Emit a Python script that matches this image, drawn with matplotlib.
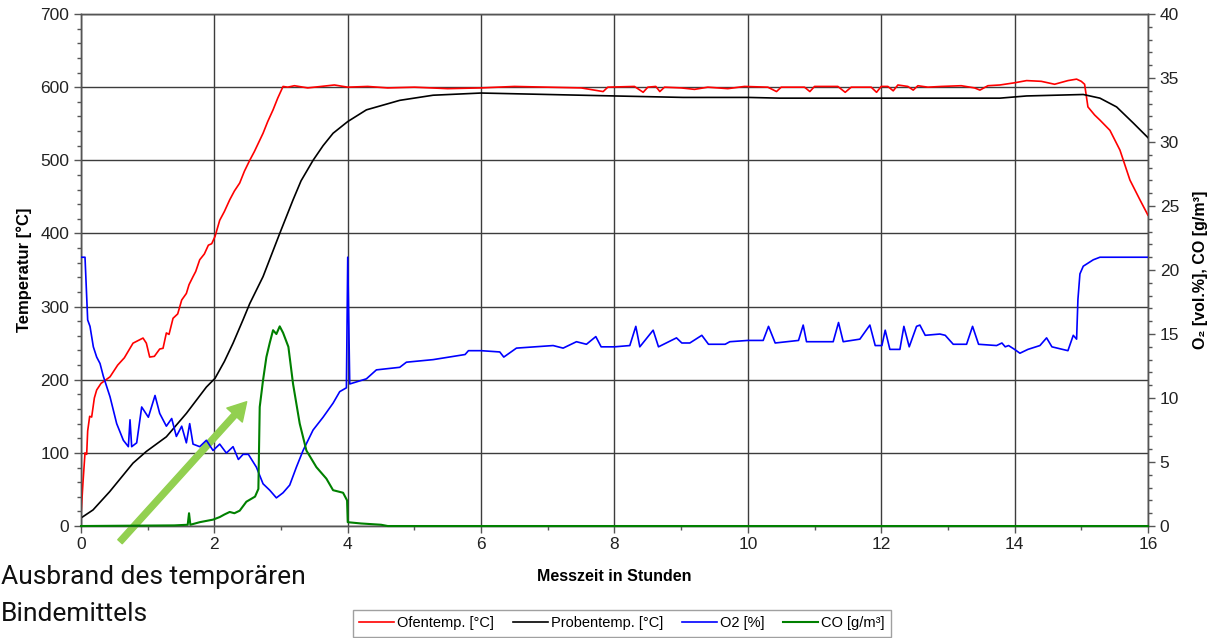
import matplotlib
matplotlib.use("Agg")
import matplotlib.pyplot as plt
from matplotlib.ticker import MultipleLocator

plt.rcParams['font.family'] = ['Liberation Sans', 'DejaVu Sans']

# Ofentemp. [°C]
ofen_t = [0.0, 0.03, 0.06, 0.085, 0.1, 0.13, 0.16, 0.2, 0.235, 0.3, 0.435, 0.55,
          0.65, 0.78, 0.93, 0.98, 1.03, 1.1, 1.18, 1.23, 1.28, 1.32, 1.38, 1.45,
          1.51, 1.58, 1.62, 1.68, 1.72, 1.78, 1.85, 1.91, 1.96, 2.01, 2.08, 2.15,
          2.23, 2.3, 2.38, 2.45, 2.53, 2.6, 2.73, 2.8, 2.88, 2.95, 3.03, 3.1, 3.2,
          3.4, 3.6, 3.8, 4.0, 4.3, 4.6, 5.0, 5.5, 6.0, 6.5, 7.0, 7.5, 7.83, 7.9,
          8.3, 8.43, 8.5, 8.62, 8.68, 8.75, 9.0, 9.2, 9.4, 9.7, 9.95, 10.3, 10.43,
          10.5, 10.85, 10.93, 11.0, 11.35, 11.46, 11.55, 11.85, 11.93, 12.0, 12.1,
          12.18, 12.25, 12.4, 12.48, 12.55, 12.7, 12.9, 13.2, 13.4, 13.48, 13.6,
          13.78, 14.0, 14.18, 14.4, 14.6, 14.8, 14.93, 15.0, 15.05, 15.1, 15.2,
          15.28, 15.43, 15.58, 15.73, 15.88, 16.0]
ofen_T = [15, 60, 100, 98, 130, 150, 149, 175, 186, 195, 204, 220,
          230, 250, 257, 250, 231, 232, 242, 243, 264, 262, 284, 290,
          309, 318, 330, 341, 348, 364, 372, 384, 386, 396, 418, 430,
          446, 458, 469, 485, 500, 512, 537, 553, 569, 585, 601, 600, 602,
          599, 601, 603, 600, 601, 599, 600, 598, 599, 601, 600, 599, 594, 600,
          601, 593, 600, 601, 594, 600, 599, 597, 600, 598, 601, 600, 594,
          600, 600, 594, 601, 601, 593, 600, 600, 593, 601, 601,
          595, 603, 601, 596, 602, 600, 601, 602, 599, 596, 602,
          603, 606, 609, 608, 604, 609, 611, 608, 604, 573, 562,
          555, 541, 514, 473, 446, 425]

# Probentemp. [°C]
probe_t = [0.0, 0.18, 0.43, 0.78, 0.98, 1.28, 1.58, 1.88, 2.01, 2.15, 2.28, 2.43,
           2.53, 2.73, 2.98, 3.18, 3.3, 3.48, 3.63, 3.78, 4.0, 4.28, 4.78, 5.28,
           6.0, 7.0, 8.0, 9.03, 10.0, 10.48, 12.5, 13.78, 14.18, 15.03, 15.28,
           15.53, 15.78, 16.0]
probe_T = [11, 22, 47, 86, 102, 122, 154, 190, 202, 225, 250, 282,
           304, 341, 400, 446, 472, 500, 520, 537, 553, 569, 582, 589,
           592, 590, 588, 586, 586, 585, 585, 585, 588, 590, 585,
           573, 551, 531]

# O2 [%]
o2_t = [0.0, 0.06, 0.1, 0.135, 0.185, 0.235, 0.285, 0.335, 0.435, 0.535, 0.635,
        0.71, 0.735, 0.76, 0.835, 0.91, 1.01, 1.11, 1.18, 1.28, 1.36, 1.43, 1.51,
        1.58, 1.63, 1.68, 1.78, 1.88, 1.98, 2.08, 2.18, 2.28, 2.36, 2.43, 2.51,
        2.63, 2.73, 2.83, 2.93, 3.03, 3.13, 3.23, 3.33, 3.48, 3.63, 3.78, 3.88,
        3.98, 4.0, 4.03, 4.28, 4.43, 4.78, 4.88, 5.28, 5.76, 5.81, 6.0, 6.28,
        6.34, 6.53, 7.08, 7.23, 7.43, 7.58, 7.72, 7.8, 8.0, 8.23, 8.32, 8.38,
        8.58, 8.66, 8.93, 9.01, 9.13, 9.31, 9.41, 9.66, 9.73, 10.0, 10.23, 10.31,
        10.41, 10.76, 10.83, 10.88, 11.28, 11.36, 11.43, 11.68, 11.83, 11.91,
        12.01, 12.06, 12.13, 12.28, 12.34, 12.42, 12.53, 12.58, 12.66, 12.88,
        12.96, 13.08, 13.28, 13.37, 13.46, 13.73, 13.81, 13.86, 13.91, 14.0,
        14.08, 14.2, 14.38, 14.43, 14.48, 14.56, 14.8, 14.88, 14.93, 14.95,
        14.98, 15.03, 15.18, 15.28, 16.0]
o2_v = [21.0, 21.0, 16.1, 15.6, 14.0, 13.2, 12.7, 11.7, 10.1, 8.0, 6.7,
        6.2, 8.3, 6.2, 6.5, 9.3, 8.5, 10.2, 8.8, 7.8, 8.4, 7.0, 7.8,
        6.5, 8.0, 6.4, 6.2, 6.7, 5.9, 6.4, 5.7, 6.2, 5.2, 5.6, 5.6,
        4.6, 3.3, 2.8, 2.2, 2.6, 3.2, 4.6, 5.9, 7.5, 8.5, 9.6, 10.5,
        10.8, 21.0, 11.1, 11.5, 12.2, 12.4, 12.8, 13.0, 13.4, 13.7, 13.7, 13.6,
        13.2, 13.9, 14.1, 13.9, 14.4, 14.2, 14.8, 14.0, 14.0, 14.1, 15.6, 14.0,
        15.3, 14.0, 14.7, 14.3, 14.3, 14.9, 14.2, 14.2, 14.4, 14.5, 14.5, 15.6,
        14.3, 14.5, 15.7, 14.4, 14.4, 15.9, 14.4, 14.6, 15.7, 14.1,
        14.1, 15.3, 13.8, 13.8, 15.6, 14.0, 15.6, 15.7, 14.9, 15.0,
        14.9, 14.2, 14.2, 15.6, 14.2, 14.1, 14.3, 14.0, 14.1, 13.8,
        13.5, 13.8, 14.1, 14.4, 14.7, 14.0, 13.7, 14.9, 14.6, 17.7,
        19.7, 20.3, 20.8, 21.0, 21.0]

# CO [g/m³]
co_t = [0.0, 1.4, 1.6, 1.62, 1.64, 1.78, 1.98, 2.08, 2.15, 2.23, 2.3, 2.38, 2.48,
        2.61, 2.66, 2.68, 2.73, 2.78, 2.83, 2.88, 2.93, 2.98, 3.03, 3.11, 3.18,
        3.28, 3.38, 3.53, 3.68, 3.78, 3.93, 3.99, 4.0, 4.2, 4.5, 4.6, 16.0]
co_v = [0.0, 0.05, 0.1, 1.0, 0.1, 0.3, 0.5, 0.7, 0.9, 1.1, 1.0, 1.2, 1.9,
        2.3, 2.9, 9.3, 11.4, 13.2, 14.3, 15.3, 15.0, 15.6, 15.1, 14.0, 11.1,
        8.0, 5.9, 4.6, 3.7, 2.8, 2.6, 2.0, 0.3, 0.2, 0.1, 0.0, 0.0]

fig = plt.figure(figsize=(12.09, 6.38), dpi=100)
ax = fig.add_axes([0.067, 0.1755, 0.8825, 0.8025])
ax2 = ax.twinx()

grid_color = '#3c3c3c'
lw = 1.2

l1, = ax.plot(ofen_t, ofen_T, color='#ff0000', lw=lw, label='Ofentemp. [°C]', zorder=3)
l2, = ax.plot(probe_t, probe_T, color='#000000', lw=lw, label='Probentemp. [°C]', zorder=3)
l3, = ax2.plot(o2_t, o2_v, color='#0000ff', lw=lw, label='O2 [%]', zorder=3)
l4, = ax2.plot(co_t, co_v, color='#008000', lw=1.5, label='CO [g/m³]', zorder=4, clip_on=False)

ax.set_xlim(0, 16)
ax.set_ylim(0, 700)
ax2.set_ylim(0, 40)

ax.xaxis.set_major_locator(MultipleLocator(2))
ax.xaxis.set_minor_locator(MultipleLocator(1))
ax.yaxis.set_major_locator(MultipleLocator(100))
ax.yaxis.set_minor_locator(MultipleLocator(20))
ax2.yaxis.set_major_locator(MultipleLocator(5))
ax2.yaxis.set_minor_locator(MultipleLocator(1))

ax.grid(True, which='major', color=grid_color, lw=1.0)
ax.set_axisbelow(True)

for a in (ax, ax2):
    for s in a.spines.values():
        s.set_color('#555555')
        s.set_linewidth(1.0)
    a.tick_params(which='major', direction='out', length=5, width=1, color='#555555',
                  labelsize=12.5, labelcolor='#222222')
    a.tick_params(which='minor', direction='out', length=3, width=1, color='#555555')

ax.tick_params(axis='x', pad=3)

ax.set_xlabel('Messzeit in Stunden', fontsize=11.5, fontweight='bold', labelpad=12)
ax.set_ylabel('Temperatur [°C]', fontsize=12, fontweight='bold', labelpad=6)
ax2.set_ylabel('O₂ [vol.%], CO [g/m³]', fontsize=11.5, fontweight='bold', labelpad=10)

fig.legend(handles=[l1, l2, l3, l4], loc='upper center', bbox_to_anchor=(0.5145, 0.044),
           ncol=4, fontsize=10.5, frameon=True, fancybox=False, edgecolor='#888888',
           handlelength=2.4, handletextpad=0.2, columnspacing=1.3, borderpad=0.45,
           borderaxespad=0)

# annotation arrow and text
ax.annotate('', xy=(246.7 / 1209, 1 - 401.7 / 638), xytext=(120 / 1209, 1 - 541.7 / 638),
            xycoords='figure fraction', textcoords='figure fraction',
            arrowprops=dict(facecolor='#92d050', edgecolor='#92d050', width=4.3,
                            headwidth=15, headlength=13, shrink=0),
            annotation_clip=False)

note_font = ['Liberation Sans Narrow', 'Roboto', 'DejaVu Sans']
fig.text(0.001, 1 - 584 / 638, 'Ausbrand des temporären', fontsize=19,
         family=note_font, va='baseline', ha='left', color='#111111')
fig.text(0.001, 1 - 621 / 638, 'Bindemittels', fontsize=19,
         family=note_font, va='baseline', ha='left', color='#111111')

fig.savefig('out.png', dpi=100)
